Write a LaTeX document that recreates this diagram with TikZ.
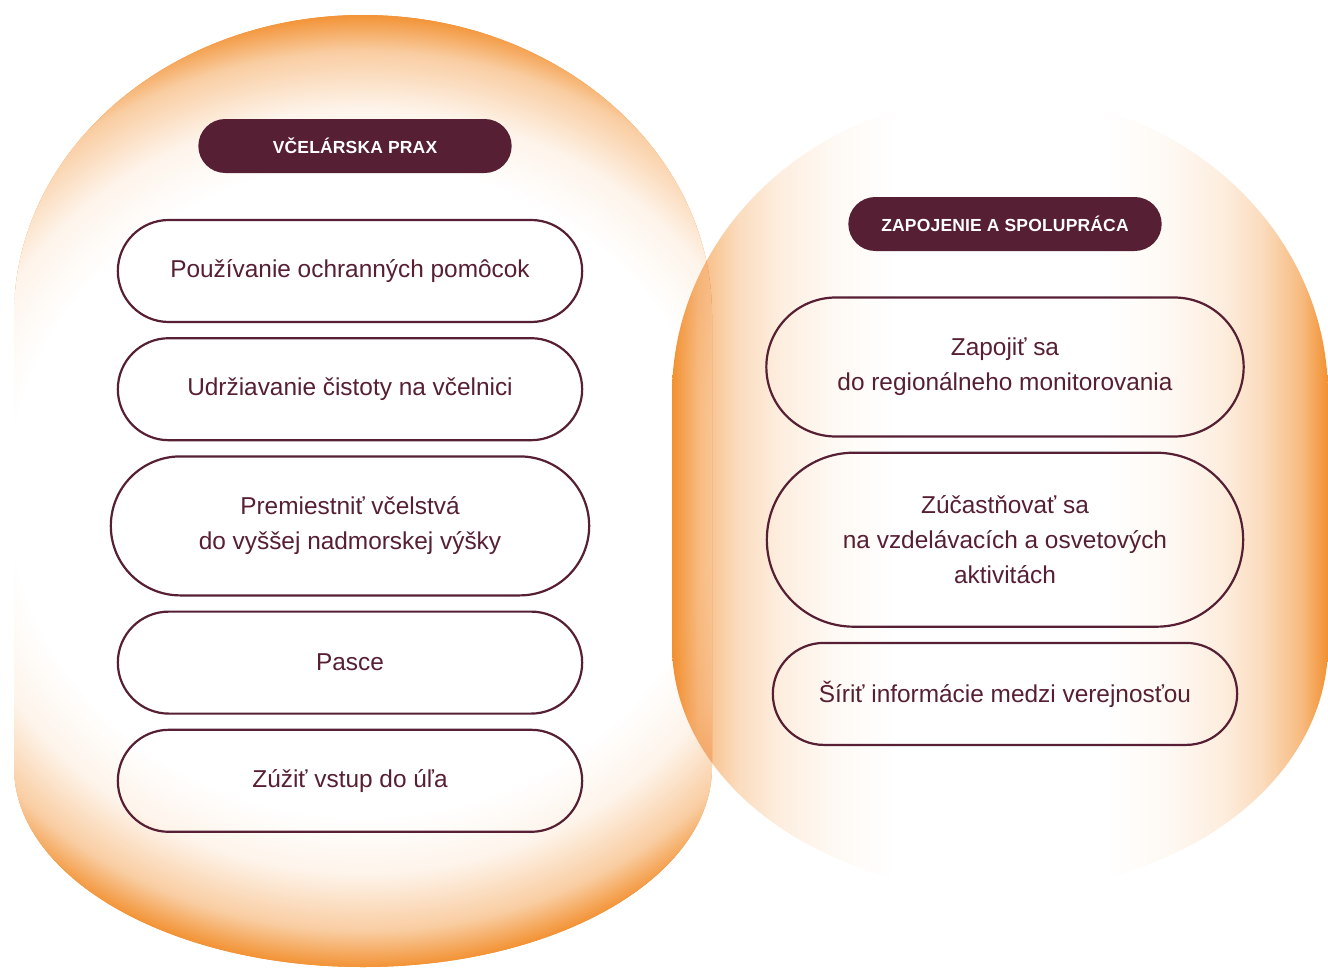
\documentclass[tikz,border=0pt]{standalone}
\usepackage{fontspec}
\setmainfont{Liberation Sans}
\newfontfamily\capsfont[LetterSpace=1]{Liberation Sans}
\usetikzlibrary{positioning, shapes.misc}
\definecolor{plum}{HTML}{561F33}
\definecolor{orng}{HTML}{F29030}
\pgfdeclareradialshading{hiveglow}{\pgfpoint{0bp}{0bp}}{color(0bp)=(white); color(17bp)=(white); color(20bp)=(orng!10!white); color(23bp)=(orng!45!white); color(25bp)=(orng); color(50bp)=(orng)}
\pgfdeclarehorizontalshading{sideglow}{100bp}{color(0bp)=(orng); color(25bp)=(orng); color(27bp)=(orng!62!white); color(30bp)=(orng!32!white); color(33bp)=(orng!16!white); color(37bp)=(orng!6!white); color(42bp)=(white); color(58bp)=(white); color(63bp)=(orng!6!white); color(67bp)=(orng!16!white); color(70bp)=(orng!32!white); color(73bp)=(orng!62!white); color(75bp)=(orng); color(100bp)=(orng)}
\tikzset{
	item/.style={draw=plum, line width=2.2pt, rounded rectangle, text=plum, align=center, minimum width=471pt, minimum height=102pt, font=\fontsize{24.4}{35}\selectfont},
	heading/.style={fill=plum, rounded rectangle, text=white, minimum width=320pt, minimum height=54pt, font=\capsfont\bfseries\fontsize{17.5}{20}\selectfont}
}
\begin{document}
\begin{tikzpicture}[x=1pt, y=-1pt]
	\useasboundingbox (0,0) rectangle (1328,969);
	
	% left field
	\begin{scope}
		\clip (14,315) -- (14,767) .. controls (14,877.5) and (170.3,967) .. (363,967) .. controls (555.7,967) and (712,877.5) .. (712,767) -- (712,315) .. controls (712,149.3) and (555.7,15) .. (363,15) .. controls (170.3,15) and (14,149.3) .. (14,315) -- cycle;
		\fill[orng] (0,0) rectangle (1328,969);
		\shade[shading=hiveglow] (363,491) ellipse (520 and 478);
	\end{scope}
	
	% right field
	\begin{scope}[blend mode=multiply]
		\shade[shading=sideglow] (672,395) -- (672,645) .. controls (672,780.9) and (818.8,891) .. (1000,891) .. controls (1181.2,891) and (1328,780.9) .. (1328,645) -- (1328,395) .. controls (1328,229.3) and (1181.2,95) .. (1000,95) .. controls (818.8,95) and (672,229.3) .. (672,395) -- cycle;
	\end{scope}
	
	\node[heading] (prax) at (355,146) {VČELÁRSKA PRAX};
	\node[item] (pom) at (350,271) {Používanie ochranných pomôcok};
	\node[item, below=14pt of pom] (cist) {Udržiavanie čistoty na včelnici};
	\node[item, below=14pt of cist, minimum width=485pt, minimum height=139pt] (vysk) {Premiestniť včelstvá\\do vyššej nadmorskej výšky};
	\node[item, below=14pt of vysk] (pasce) {Pasce};
	\node[item, below=14pt of pasce] (vstup) {Zúžiť vstup do úľa};
	
	\node[heading] (zap) at (1005,224) {ZAPOJENIE A SPOLUPRÁCA};
	\node[item, minimum width=484pt, minimum height=139pt] (mon) at (1005,367) {Zapojiť sa\\do regionálneho monitorovania};
	\node[item, below=14pt of mon, minimum width=483pt, minimum height=174pt] (vzd) {Zúčastňovať sa\\na vzdelávacích a osvetových\\aktivitách};
	\node[item, below=14pt of vzd] (sir) {Šíriť informácie medzi verejnosťou};
\end{tikzpicture}
\end{document}
